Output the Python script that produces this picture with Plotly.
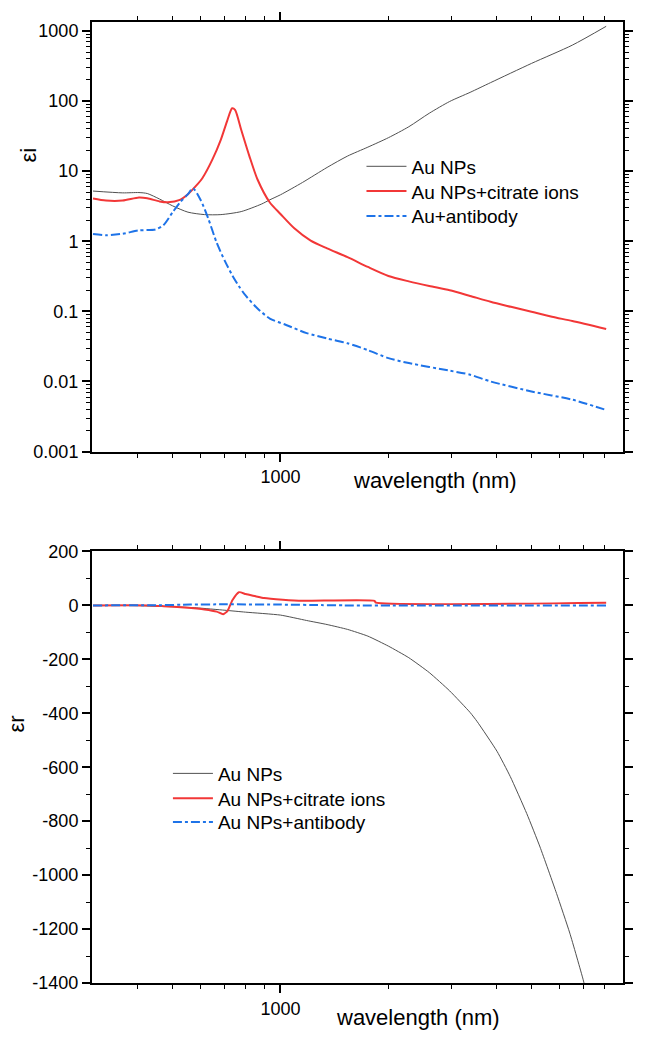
import plotly.graph_objects as go

# ---------------- data: imaginary part (log scale) ----------------
wl_au_i = [300, 363, 403, 425, 460, 500, 552, 614, 682, 777, 886, 934, 1000, 1152, 1349,
           1538, 1753, 2000, 2280, 2600, 2965, 3380, 3855, 5013, 6516, 8100]
ei_au = [5.2, 4.9, 4.95, 4.8, 4.0, 3.2, 2.6, 2.4, 2.4, 2.65, 3.4, 3.9, 4.6, 6.9, 11.3,
         16.4, 22.0, 30.0, 43.0, 67, 98.6, 133, 183, 344, 627, 1164]

wl_cit_i = [300, 326, 363, 403, 425, 460, 485, 524, 552, 582, 606, 646, 682, 709, 733, 747,
            777, 819, 863, 934, 1000, 1093, 1214, 1349, 1538, 1753, 2000, 2280, 2600, 2965,
            3380, 3855, 4395, 5013, 5716, 6516, 8100]
ei_cit = [4.07, 3.8, 3.8, 4.2, 4.1, 3.7, 3.6, 3.9, 4.7, 6.2, 8.0, 14.7, 28.2, 51, 79, 75,
          39, 16.4, 7.6, 3.57, 2.45, 1.53, 1.02, 0.79, 0.594, 0.43, 0.32, 0.268, 0.23, 0.2,
          0.166, 0.137, 0.116, 0.0986, 0.0838, 0.0727, 0.056]

wl_ab_i = [300, 326, 363, 403, 448, 472, 500, 524, 552, 570, 600, 629, 664, 700, 733, 765, 798,
           863, 934, 1037, 1183, 1349, 1538, 1753, 2000, 2280, 2965, 3380, 3855, 5013, 6516, 8000]
ei_ab = [1.27, 1.22, 1.28, 1.43, 1.47, 1.7, 2.58, 3.57, 4.7, 5.7, 3.8, 2.1, 0.95, 0.52, 0.33, 0.23, 0.17,
         0.11, 0.079, 0.064, 0.049, 0.041, 0.035, 0.028, 0.0215, 0.0183, 0.01425, 0.0125, 0.01,
         0.0072, 0.0055, 0.004]

# ---------------- data: real part ----------------
wl_au_r = [300, 400, 500, 582, 700, 798, 1000, 1183, 1349, 1538, 1753, 2000, 2280, 2600, 2965,
           3380, 3538, 4018, 4373, 4864, 5297, 5889, 6412, 6982, 7100]
er_au = [0, -1, -5, -9, -18, -25, -36, -56, -71, -89, -114, -151, -194, -249, -317,
         -397, -431, -541, -634, -772, -896, -1068, -1215, -1386, -1425]

wl_cit_r = [300, 430, 472, 539, 614, 664, 692, 712, 735, 766, 800, 852, 900, 1015, 1157,
            1830, 1845, 8100]
er_cit = [0, 0, -3, -8, -15, -23, -33, -20, 20, 49, 42, 34, 27, 21, 17, 17, 10, 10]

wl_ab_r = [300, 450, 560, 700, 1000, 1300, 1500, 8100]
er_ab = [0, 0.5, 3, 4, 3, 1, 0, 0]

names_top = ["Au NPs", "Au NPs+citrate ions", "Au+antibody"]
names_bot = ["Au NPs", "Au NPs+citrate ions", "Au NPs+antibody"]

# ticks
x_major = [1000]
x_major_text = ["1000"]
x_minor = [400, 500, 600, 700, 800, 900, 2000, 3000, 4000, 5000, 6000, 7000, 8000]
yi_major = [0.001, 0.01, 0.1, 1, 10, 100, 1000]
yi_major_text = ["0.001", "0.01", "0.1", "1", "10", "100", "1000"]
yi_minor = [m * d for d in [0.001, 0.01, 0.1, 1, 10, 100, 1000] for m in range(2, 10)]
yr_major = [200, 0, -200, -400, -600, -800, -1000, -1200, -1400]
yr_major_text = ["200", "0", "-200", "-400", "-600", "-800", "-1000", "-1200", "-1400"]

FONT = "Liberation Sans, Arial, sans-serif"
BLACK = "rgb(80,80,80)"
RED = "rgb(242,55,55)"
BLUE = "rgb(30,115,232)"

W, H = 645, 1037
ML, MR, MT, MB = 92, 18, 15, 54
PW, PH = W - ML - MR, H - MT - MB


def px(x):
    return (x - ML) / PW


def py(y):
    return (H - MB - y) / PH


fig = go.Figure()

styles = [dict(color=BLACK, width=1, dash="solid"),
          dict(color=RED, width=2, dash="solid"),
          dict(color=BLUE, width=2, dash="9px,3px,3px,3px")]

# one legend per entry so row spacing matches the reference
top_rows = [160.5, 185.5, 210.5]
bot_rows = [772, 797, 821]
legend_defs = {}

for i, ((wl, v), name, st) in enumerate(zip([(wl_au_i, ei_au), (wl_cit_i, ei_cit), (wl_ab_i, ei_ab)],
                                            names_top, styles)):
    lg = "legend" if i == 0 else f"legend{i + 1}"
    legend_defs[lg] = (363.5, top_rows[i])
    fig.add_trace(go.Scatter(x=wl, y=v, mode="lines", name=name,
                             line=dict(shape="spline", smoothing=0.7, **st),
                             xaxis="x", yaxis="y", legend=lg))

for i, ((wl, v), name, st) in enumerate(zip([(wl_au_r, er_au), (wl_cit_r, er_cit), (wl_ab_r, er_ab)],
                                            names_bot, styles)):
    lg = f"legend{i + 4}"
    legend_defs[lg] = (168.5, bot_rows[i])
    fig.add_trace(go.Scatter(x=wl, y=v, mode="lines", name=name,
                             line=dict(shape="spline", smoothing=0.5, **st),
                             xaxis="x2", yaxis="y2", legend=lg))

axis_common = dict(showline=True, linecolor="black", linewidth=2, mirror="ticks", ticks="outside",
                   ticklen=8, tickwidth=1.5, tickcolor="black", showgrid=False, zeroline=False,
                   tickfont=dict(family=FONT, size=18, color="black"))
minor_common = dict(ticks="outside", ticklen=4, tickwidth=1.2, tickcolor="black", showgrid=False)

xr = [2.4743, 3.9554]
fig.update_layout(
    width=W, height=H, margin=dict(l=ML, r=MR, t=MT, b=MB),
    paper_bgcolor="white", plot_bgcolor="white",
    font=dict(family=FONT, color="black"),
    xaxis=dict(type="log", range=xr, domain=[0, 1], anchor="y", tickmode="array",
               tickvals=x_major, ticktext=x_major_text,
               minor=dict(tickmode="array", tickvals=x_minor, **minor_common), **axis_common),
    yaxis=dict(type="log", range=[-3, 3.1275], domain=[py(447.7), 1], anchor="x", tickmode="array",
               tickvals=yi_major, ticktext=yi_major_text,
               minor=dict(tickmode="array", tickvals=yi_minor, **minor_common), **axis_common),
    xaxis2=dict(type="log", range=xr, domain=[0, 1], anchor="y2", tickmode="array",
                tickvals=x_major, ticktext=x_major_text,
                minor=dict(tickmode="array", tickvals=x_minor, **minor_common), **axis_common),
    yaxis2=dict(range=[-1400, 200], domain=[0, py(548.3)], anchor="x2", tickmode="array",
                tickvals=yr_major, ticktext=yr_major_text,
                minor=dict(dtick=100, tick0=0, **minor_common), **axis_common),
    showlegend=True,
)

for lg, (lx, ly) in legend_defs.items():
    fig.update_layout({lg: dict(x=px(lx), y=py(ly), xanchor="left", yanchor="middle",
                                bgcolor="rgba(0,0,0,0)", borderwidth=0,
                                font=dict(family=FONT, size=19, color="black"), itemwidth=40)})

ann_font = dict(family=FONT, size=22, color="black")
fig.add_annotation(text="εi", x=px(28), y=py(149), xref="paper", yref="paper", textangle=-90,
                   showarrow=False, font=ann_font, xanchor="center", yanchor="middle")
fig.add_annotation(text="wavelength (nm)", x=px(438), y=py(477), xref="paper", yref="paper",
                   showarrow=False, font=ann_font, xanchor="center", yanchor="middle")
fig.add_annotation(text="εr", x=px(16), y=py(722), xref="paper", yref="paper", textangle=-90,
                   showarrow=False, font=ann_font, xanchor="center", yanchor="middle")
fig.add_annotation(text="wavelength (nm)", x=px(420), y=py(1018), xref="paper", yref="paper",
                   showarrow=False, font=ann_font, xanchor="center", yanchor="middle")

fig.write_html("out.html", config={"displayModeBar": False},
               post_script="document.body.style.margin='0px';")
